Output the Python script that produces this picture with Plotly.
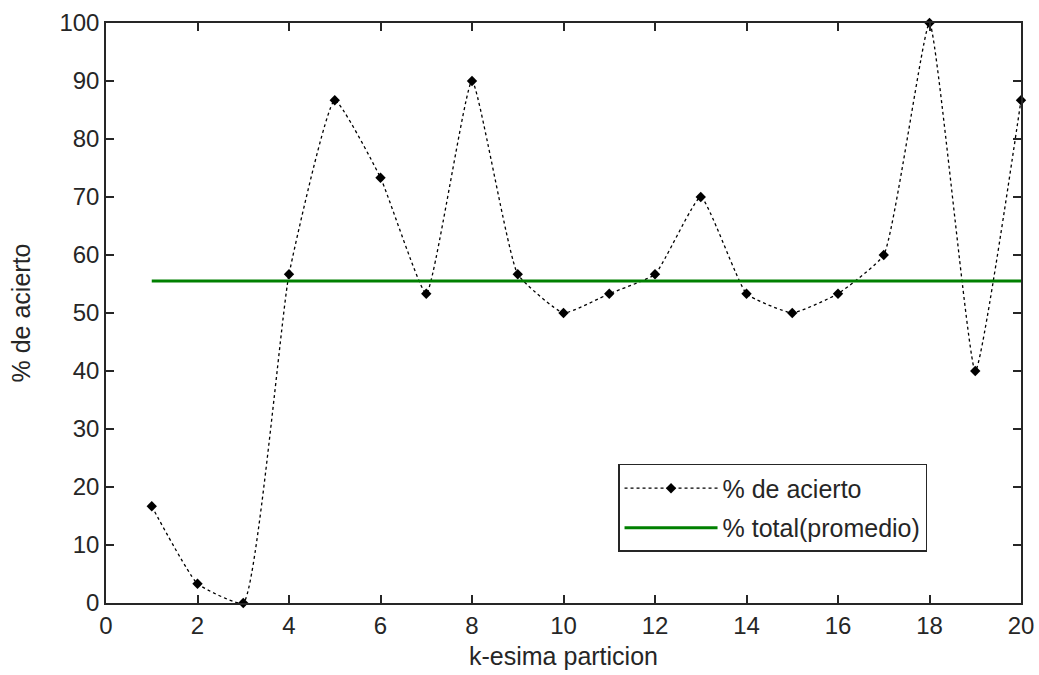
import plotly.graph_objects as go

k = list(range(1, 21))
acierto = [16.67, 3.33, 0, 56.67, 86.67, 73.33, 53.33, 90, 56.67, 50,
           53.33, 56.67, 70, 53.33, 50, 53.33, 60, 100, 40, 86.67]
promedio = sum(acierto) / len(acierto)
x_ticks = list(range(0, 21, 2))
y_ticks = list(range(0, 101, 10))

fig = go.Figure()
fig.add_trace(go.Scatter(
    x=k, y=acierto, mode="lines+markers", name="% de acierto", legendgroup="a",
    line=dict(color="black", width=1.3, dash="3px,3px", shape="spline", smoothing=0.4),
    marker=dict(symbol="diamond", size=8, color="black"), cliponaxis=False,
))
fig.add_trace(go.Scatter(
    x=[k[0], k[-1]], y=[promedio, promedio], mode="lines", name="% total(promedio)",
    legendgroup="b",
    line=dict(color="#008000", width=3),
))

axis_common = dict(
    showgrid=False, zeroline=False, showline=True, linecolor="#262626", linewidth=1.5,
    mirror="ticks", ticks="inside", ticklen=8, tickwidth=1.5, tickcolor="#262626",
    tickfont=dict(size=24, color="#262626"), automargin=False, ticklabeloverflow="allow",
)
fig.update_xaxes(range=[0, 20], tickvals=x_ticks,
                 title=dict(text="k-esima particion", font=dict(size=25), standoff=10), **axis_common)
fig.update_yaxes(range=[0, 100], tickvals=y_ticks,
                 title=dict(text="% de acierto", font=dict(size=25), standoff=22), **axis_common)

fig.update_layout(
    width=1039, height=675,
    margin=dict(l=106, r=18, t=23, b=72),
    paper_bgcolor="white", plot_bgcolor="white",
    font=dict(family="Liberation Sans, Arial, sans-serif", color="#262626", size=25),
    legend=dict(x=0.5596, y=0.2397, xanchor="left", yanchor="top",
                bordercolor="#262626", borderwidth=1.5, bgcolor="white",
                font=dict(size=25), itemwidth=93, tracegroupgap=4),
)
fig.write_html("out.html", config={"displayModeBar": False},
               post_script="document.body.style.margin='0';document.body.style.overflow='hidden';")
